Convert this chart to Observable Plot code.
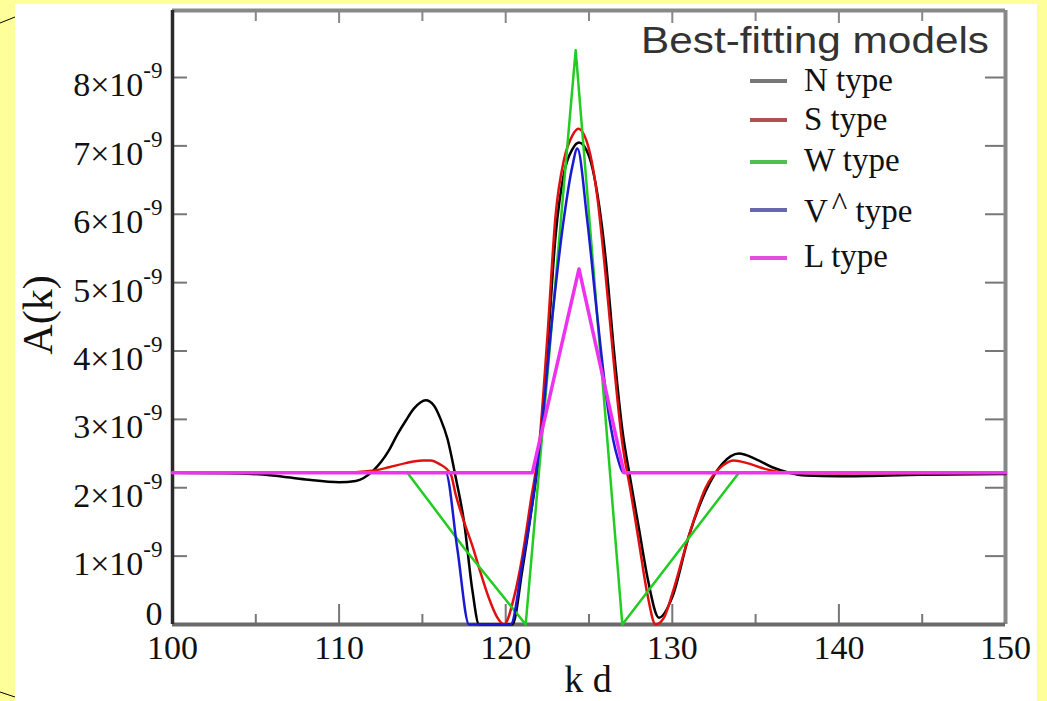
<!DOCTYPE html>
<html>
<head>
<meta charset="utf-8">
<script src="https://cdn.jsdelivr.net/npm/d3@7"></script>
<script src="https://cdn.jsdelivr.net/npm/@observablehq/plot@0.6"></script>
<style>
  html, body { margin: 0; padding: 0; background: #ffff99; }
  #wrap { position: relative; width: 1047px; height: 701px; overflow: hidden; }
  #panel { position: absolute; left: 15px; top: 4px; width: 1022px; height: 697px; background: #ffffff; }
  #chart { position: absolute; left: 0; top: 0; }
  #overlay { position: absolute; left: 0; top: 0; pointer-events: none; }
</style>
</head>
<body>
<div id="wrap">
  <div id="panel"></div>
  <div id="chart"></div>
  <svg id="overlay" width="1047" height="701" xmlns="http://www.w3.org/2000/svg">
    <line x1="0" y1="23" x2="15" y2="17" stroke="#000" stroke-width="1"/>
    <line x1="0" y1="692" x2="15" y2="697" stroke="#000" stroke-width="1"/>
    <text x="641" y="53" font-family="Liberation Sans, Arial, sans-serif" font-size="37" fill="#333" textLength="348" lengthAdjust="spacingAndGlyphs">Best-fitting models</text>
    <g id="legend" font-family="Liberation Serif, Times New Roman, serif" font-size="33" fill="#111"></g>
    <text x="588" y="692" text-anchor="middle" font-family="Liberation Serif, serif" font-size="38" fill="#111">k d</text>
    <text transform="translate(52,315) rotate(-90)" text-anchor="middle" font-family="Liberation Serif, serif" font-size="42" fill="#111">A(k)</text>
  </svg>
</div>
<script>
// ---- data (A(k) in units of 1e-9) ----
const kdN = [100,104,106,108,110,111,112,113,113.5,114,114.5,115.2,115.7,116.1,116.5,117,117.5,118,118.4,120.4,121,121.5,122,122.5,123,123.5,124,124.4,125,125.5,126,126.5,127,127.5,128,128.5,129.2,130,131,132,133,134,135,136,137,138,140,145,150];
const aN  = [2.22,2.21,2.18,2.12,2.08,2.10,2.24,2.55,2.78,2.98,3.16,3.28,3.2,3.0,2.72,2.15,1.5,0.5,0,0,0.8,1.6,2.5,4.0,5.7,6.6,6.95,7.05,6.85,6.3,5.35,4.0,2.85,2.1,1.4,0.7,0.1,0.4,1.3,1.95,2.35,2.5,2.42,2.3,2.22,2.18,2.17,2.19,2.2];

const kdS = [100,110,112,113,114,115,115.5,116,116.7,117,117.5,118,118.5,119,119.5,119.9,120.5,121,121.5,122,122.5,123,123.5,124,124.35,125,125.5,126,126.5,127,127.5,128,128.5,129,129.5,130,131,132,133,133.7,134.5,135.5,137,140,150];
const aS  = [2.22,2.22,2.25,2.3,2.36,2.4,2.4,2.35,2.2,1.9,1.5,1.15,0.75,0.38,0.1,0,0.4,1.0,1.8,2.6,4.2,6.0,6.8,7.15,7.25,6.95,6.25,5.1,3.8,2.65,1.95,1.2,0.45,0,0.1,0.45,1.3,2.0,2.32,2.4,2.36,2.28,2.22,2.21,2.22];

const kdW = [100,114.1,117.5,121.2,124.2,127.0,134.0,150];
const aW  = [2.22,2.22,1.12,0,8.4,0,2.22,2.22];

const kdV = [100,116.4,117.1,117.8,120.3,121,121.6,122.2,122.8,123.5,124,124.3,124.9,125.5,126.2,126.7,127.1,150];
const aV  = [2.22,2.22,1.1,0,0,0.89,1.77,2.98,4.5,5.95,6.7,6.96,5.9,4.5,3.05,2.45,2.22,2.22];

const kdL = [100,121.6,124.4,127.1,150];
const aL  = [2.22,2.22,5.2,2.22,2.22];

const seriesNames = ["N type","S type","W type","V^ type","L type"];
const xMajor = [100,110,120,130,140,150];
const xMinor = [105,115,125,135,145];
const yMajor = [0,1,2,3,4,5,6,7,8];

// ---- styles ----
const lineColors = ["#000000","#e01010","#22cc22","#1a1ad0","#ee33ee"];
const swatchColors = ["#777777","#b05050","#50c050","#6868b0","#e050e0"];
const curves = ["monotone-x","monotone-x","linear","monotone-x","linear"];
const widths = [2.5,2.5,2.5,2.5,3.5];

const toRows = (kd, a) => kd.map((k, i) => ({kd: k, A: a[i]}));
const rows = [toRows(kdN,aN), toRows(kdS,aS), toRows(kdW,aW), toRows(kdV,aV), toRows(kdL,aL)];

const W = 1047, H = 701, mL = 172, mR = 42, mT = 10, mB = 77;
const pw = W - mL - mR, ph = H - mT - mB;

const chart = Plot.plot({
  width: W, height: H,
  marginLeft: mL, marginRight: mR, marginTop: mT, marginBottom: mB,
  style: {background: "transparent", fontFamily: "Liberation Serif, Times New Roman, serif", fontSize: "34px", color: "#111", overflow: "visible"},
  x: {domain: [100, 150]},
  y: {domain: [0, 8.98]},
  marks: [
    // inward ticks
    Plot.tickY(yMajor, {y: d => d, stroke: "#777", strokeWidth: 2, insetRight: pw - 15}),
    Plot.tickY(yMajor, {y: d => d, stroke: "#777", strokeWidth: 2, insetLeft: pw - 20}),
    Plot.tickX(xMajor, {x: d => d, stroke: "#777", strokeWidth: 2, insetTop: ph - 20}),
    Plot.tickX(xMinor, {x: d => d, stroke: "#777", strokeWidth: 2, insetTop: ph - 10}),
    Plot.tickX(xMajor, {x: d => d, stroke: "#888", strokeWidth: 2, insetBottom: ph - 13}),
    Plot.tickX(xMinor, {x: d => d, stroke: "#888", strokeWidth: 2, insetBottom: ph - 11}),
    // frame
    Plot.ruleY([8.98], {stroke: "#888", strokeWidth: 4}),
    Plot.ruleX([150], {stroke: "#888", strokeWidth: 4}),
    Plot.ruleY([0], {stroke: "#6a6a6a", strokeWidth: 4}),
    Plot.ruleX([100], {stroke: "#2a2a2a", strokeWidth: 3.5}),
    // axes labels
    Plot.axisX({ticks: xMajor, tickSize: 0, tickPadding: 10, label: null, tickFormat: d => String(d)}),
    Plot.axisY({ticks: yMajor, tickSize: 0, tickPadding: 10, dy: 8, label: null,
      tickFormat: d => d === 0 ? "0" : `${d}×10^-9`}),
    // series
    ...rows.map((r, i) => Plot.line(r, {x: "kd", y: "A", stroke: lineColors[i], strokeWidth: widths[i], curve: curves[i]}))
  ]
});
document.getElementById("chart").appendChild(chart);

// superscripts on y tick labels
const NS = "http://www.w3.org/2000/svg";
chart.querySelectorAll('[aria-label="y-axis tick label"] text').forEach(t => {
  const s = t.textContent;
  const i = s.indexOf("^");
  if (i >= 0) {
    t.textContent = s.slice(0, i);
    const ts = document.createElementNS(NS, "tspan");
    ts.setAttribute("dy", "-18");
    ts.setAttribute("font-size", "23");
    ts.textContent = s.slice(i + 1);
    t.appendChild(ts);
  } else if (s === "0") {
    const y = parseFloat(t.getAttribute("y"));
    if (!isNaN(y)) t.setAttribute("y", y - 8);
  }
});

// legend
const lg = document.getElementById("legend");
const baselines = [91, 130, 171, 222, 267];
const swY = [81, 120, 162, 210, 258];
seriesNames.forEach((name, i) => {
  const ln = document.createElementNS(NS, "line");
  ln.setAttribute("x1", 750); ln.setAttribute("x2", 787);
  ln.setAttribute("y1", swY[i]); ln.setAttribute("y2", swY[i]);
  ln.setAttribute("stroke", swatchColors[i]); ln.setAttribute("stroke-width", 4);
  lg.appendChild(ln);
  const tx = document.createElementNS(NS, "text");
  tx.setAttribute("x", 804); tx.setAttribute("y", baselines[i]);
  const k = name.indexOf("^");
  if (k >= 0) {
    tx.appendChild(document.createTextNode(name.slice(0, k)));
    const a = document.createElementNS(NS, "tspan");
    a.setAttribute("dy", "-7"); a.setAttribute("dx", "4");
    a.textContent = "^";
    tx.appendChild(a);
    const b = document.createElementNS(NS, "tspan");
    b.setAttribute("dy", "7");
    b.textContent = name.slice(k + 1);
    tx.appendChild(b);
  } else {
    tx.textContent = name;
  }
  lg.appendChild(tx);
});
</script>
</body>
</html>
